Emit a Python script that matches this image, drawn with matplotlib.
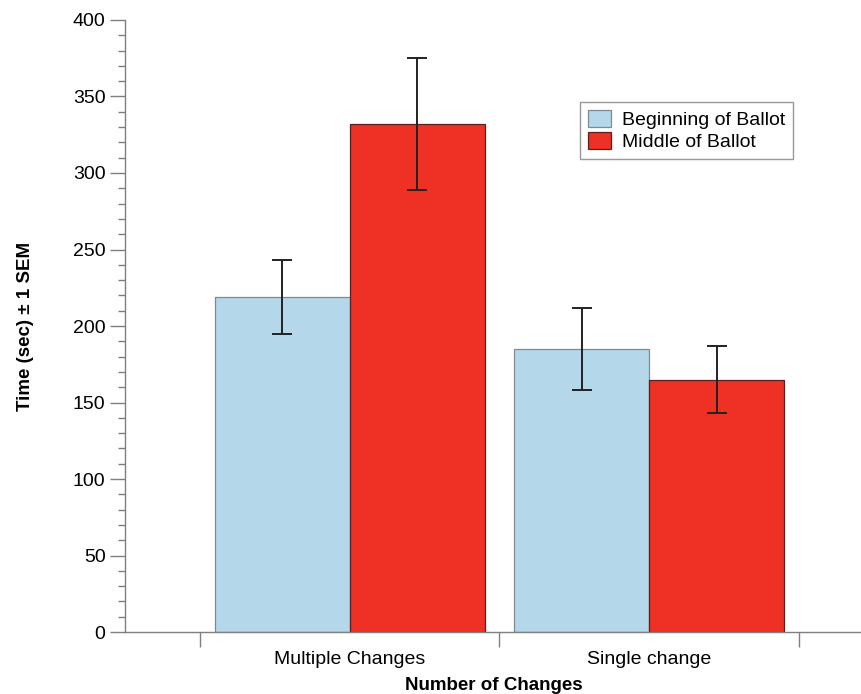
import numpy as np
import matplotlib
matplotlib.use("Agg")
import matplotlib.pyplot as plt
from matplotlib.patches import FancyBboxPatch, Rectangle
from matplotlib.legend_handler import HandlerPatch

# data
categories = ["Multiple Changes", "Single change"]
series_names = ["Beginning of Ballot", "Middle of Ballot"]
beginning = [219, 185]
beginning_sem = [24, 27]
middle = [332, 165]
middle_sem = [43, 22]

plt.rcParams['font.family'] = ['Liberation Sans', 'DejaVu Sans']

color_begin = '#b4d7e9'
color_mid = '#ee3124'
axis_gray = '#7f7f7f'


class RoundHandler(HandlerPatch):
    # rounded square swatches like the reference legend
    def create_artists(self, legend, orig_handle, xdescent, ydescent,
                       width, height, fontsize, trans):
        w = height * 1.05
        p = FancyBboxPatch((-xdescent + (width - w) / 2, -ydescent - 1.5), w, height + 3,
                           boxstyle="round,pad=0,rounding_size=5",
                           facecolor=orig_handle.get_facecolor(),
                           edgecolor=orig_handle.get_edgecolor(), linewidth=0.8,
                           transform=trans)
        return [p]


fig = plt.figure(figsize=(8.62, 6.94), dpi=100)
ax = fig.add_axes([0.145, 0.0893, 0.855, 0.8819])

x = np.arange(len(categories))
w = 0.45
b1 = ax.bar(x - w / 2, beginning, w, color=color_begin, edgecolor='#808a90', linewidth=0.9,
            label=series_names[0], zorder=2)
b2 = ax.bar(x + w / 2, middle, w, color=color_mid, edgecolor='#5a2020', linewidth=0.9,
            label=series_names[1], zorder=2)
ax.errorbar(x - w / 2, beginning, yerr=beginning_sem, fmt='none', ecolor='#222222',
            elinewidth=1.4, capsize=7, capthick=1.4, zorder=3)
ax.errorbar(x + w / 2, middle, yerr=middle_sem, fmt='none', ecolor='#222222',
            elinewidth=1.4, capsize=7, capthick=1.4, zorder=3)

ax.set_xlim(-0.75, 1.71)
ax.set_ylim(0, 400)

# y axis ticks
ax.set_yticks(np.arange(0, 401, 50))
ax.set_yticks(np.arange(0, 401, 10), minor=True)
ax.tick_params(axis='y', which='major', length=11, width=1, color=axis_gray,
               labelsize=14, pad=3)
ax.tick_params(axis='y', which='minor', length=5, width=1, color=axis_gray)

# x axis: labels at centers, ticks at group boundaries
ax.set_xticks(x)
ax.set_xticklabels(categories)
ax.set_xticks([-0.5, 0.5, 1.5], minor=True)
ax.tick_params(axis='x', which='major', length=0, labelsize=14, pad=14)
ax.tick_params(axis='x', which='minor', length=11, width=1, color=axis_gray)

for s in ['top', 'right']:
    ax.spines[s].set_visible(False)
for s in ['left', 'bottom']:
    ax.spines[s].set_color(axis_gray)
    ax.spines[s].set_linewidth(1)

ax.set_ylabel('Time (sec) \u00b1 1 SEM', fontsize=13.5, fontweight='bold', labelpad=28)
ax.set_xlabel('Number of Changes', fontsize=13.5, fontweight='bold', labelpad=6)

leg = ax.legend(handles=[b1, b2], loc='upper left', bbox_to_anchor=(0.617, 0.866),
                fontsize=14, frameon=True, fancybox=False, edgecolor=axis_gray,
                handlelength=1.2, handleheight=1.0, handletextpad=0.55,
                labelspacing=0.15, borderpad=0.4, borderaxespad=0,
                handler_map={Rectangle: RoundHandler()})
leg.get_frame().set_linewidth(1)

fig.savefig('out.png', dpi=100)
